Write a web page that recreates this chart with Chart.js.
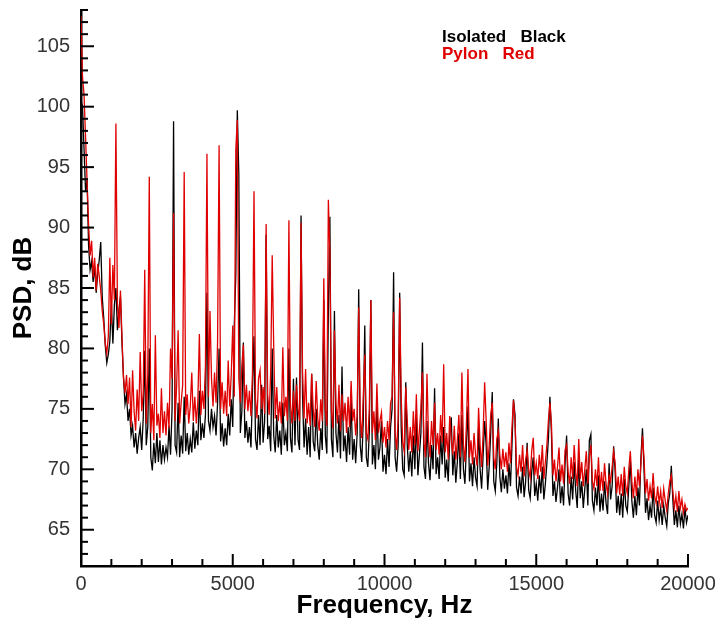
<!DOCTYPE html>
<html>
<head>
<meta charset="utf-8">
<script src="https://cdn.jsdelivr.net/npm/chart.js@4.4.1/dist/chart.umd.min.js"></script>
<style>
  html, body { margin: 0; padding: 0; background: #fff; }
  #wrap { position: relative; width: 718px; height: 623px; }
  #legend {
    position: absolute; left: 442px; top: 28px;
    font: bold 17px "Liberation Sans", Arial, sans-serif;
    line-height: 17px; white-space: pre;
  }
</style>
</head>
<body>
<div id="wrap">
  <canvas id="psd" width="718" height="623"></canvas>
  <div id="legend"><div style="color:#000">Isolated   Black</div><div style="color:#e00000">Pylon   Red</div></div>
</div>
<script>
// spectra sampled every 50 Hz, 0 .. 20000 Hz (values in dB)
const freqStep = 50;

const isolated = [
  100.5, 100.0, 96.5, 93.0, 94.0, 88.5, 86.5, 87.2, 85.5, 86.8, 84.6, 86.2, 87.3, 88.8, 84.2, 82.5, 80.2, 78.8, 79.5, 80.6,
  83.8, 80.4, 83.6, 85.0, 81.5, 83.2, 84.3, 80.5, 77.6, 75.4, 76.2, 74.0, 75.0, 72.8, 73.6, 71.8, 73.0, 71.3, 72.6, 73.5,
  71.6, 74.2, 79.8, 72.0, 73.5, 80.0, 71.0, 69.9, 72.2, 70.5, 73.0, 70.6, 72.4, 70.4, 72.0, 70.8, 71.8, 71.0, 73.6, 71.2,
  74.9, 98.8, 72.0, 71.4, 75.5, 71.0, 72.8, 71.3, 76.0, 71.5, 73.0, 71.2, 72.5, 71.4, 73.9, 71.7, 73.2, 72.0, 76.5, 72.4,
  73.8, 72.6, 74.5, 84.6, 74.0, 73.2, 75.0, 73.5, 74.4, 72.8, 75.5, 80.0, 72.3, 73.8, 71.9, 73.4, 72.0, 74.6, 72.8, 75.8,
  73.5, 81.9, 86.0, 99.7, 94.4, 73.0, 74.8, 80.5, 72.6, 74.0, 72.2, 73.5, 71.8, 76.5, 81.0, 72.5, 71.6, 74.5, 72.0, 77.0,
  72.2, 74.0, 89.4, 72.5, 73.6, 71.5, 80.0, 72.8, 71.4, 74.5, 71.8, 73.2, 71.2, 75.5, 72.0, 73.0, 71.5, 80.0, 72.6, 71.4,
  77.5, 72.0, 77.6, 72.5, 71.6, 91.0, 76.0, 71.8, 74.2, 71.2, 73.5, 71.0, 77.9, 72.3, 71.5, 75.0, 72.0, 70.8, 73.4, 71.6,
  84.0, 72.8, 71.3, 83.0, 90.9, 72.5, 71.0, 83.1, 73.0, 71.4, 74.5, 70.9, 78.5, 71.5, 72.8, 70.6, 73.5, 71.2, 76.0, 70.8,
  72.5, 70.5, 73.0, 84.9, 72.0, 70.6, 74.0, 81.9, 71.0, 70.2, 73.2, 84.0, 70.4, 72.0, 70.0, 75.5, 70.8, 71.8, 74.0, 69.8,
  71.2, 69.6, 72.5, 70.2, 73.5, 75.0, 86.3, 71.0, 69.8, 72.0, 84.6, 73.5, 70.0, 69.5, 77.2, 72.0, 69.8, 71.5, 69.4, 72.8,
  70.0, 74.5, 69.5, 71.2, 73.0, 80.5, 70.2, 69.2, 74.0, 70.5, 69.1, 72.0, 70.0, 76.7, 69.6, 71.0, 69.2, 72.8, 70.4, 73.5,
  69.3, 70.8, 69.0, 72.6, 74.3, 69.5, 71.5, 68.9, 70.6, 73.0, 69.2, 74.5, 70.0, 68.8, 72.0, 75.2, 69.0, 70.5, 68.6, 71.0,
  69.3, 68.6, 73.5, 70.0, 68.4, 71.2, 74.0, 72.0, 68.3, 70.2, 73.0, 76.4, 69.0, 68.2, 70.5, 74.2, 69.4, 68.1, 70.0, 68.4,
  69.5, 68.0, 70.5, 68.6, 72.0, 75.8, 74.5, 68.5, 67.8, 69.4, 68.0, 70.2, 67.7, 69.0, 72.2, 68.3, 67.6, 69.8, 71.0, 67.8,
  68.8, 67.4, 69.5, 68.0, 70.2, 67.5, 68.8, 70.5, 72.5, 76.0, 73.0, 67.8, 69.0, 67.3, 68.5, 70.0, 67.2, 68.6, 67.0, 70.5,
  72.8, 68.0, 67.0, 69.4, 67.5, 70.6, 68.2, 66.8, 71.0, 67.6, 69.0, 66.8, 68.4, 70.0, 67.0, 72.4, 72.9, 67.4, 66.6, 68.5,
  67.0, 69.5, 66.5, 68.0, 66.6, 69.0, 67.2, 66.3, 70.5, 67.5, 68.6, 71.9, 69.8, 66.4, 67.8, 66.2, 68.0, 66.0, 69.2, 67.0,
  66.5, 68.6, 70.8, 67.4, 66.0, 67.8, 66.2, 68.5, 67.0, 71.0, 73.4, 70.0, 66.4, 67.6, 65.8, 67.0, 66.0, 68.5, 66.2, 65.6,
  67.4, 65.8, 66.8, 65.4, 67.0, 66.0, 65.3, 67.2, 68.0, 70.3, 67.5, 65.4, 66.6, 65.2, 67.0, 65.5, 66.3, 65.1, 66.8, 65.6, 66.2
];

const pylon = [
  107.5, 102.5, 101.0, 97.5, 93.8, 90.2, 87.7, 88.9, 85.9, 87.5, 84.8, 87.0, 86.0, 84.8, 83.1, 82.0, 80.4, 79.6, 81.0, 87.5,
  82.0, 86.9, 84.0, 98.6, 83.7, 81.7, 84.8, 80.9, 77.6, 76.3, 77.8, 75.4, 77.6, 73.5, 78.2, 74.8, 73.2, 76.6, 74.0, 79.7,
  74.8, 76.3, 86.5, 73.8, 77.9, 94.2, 73.0, 75.4, 72.4, 81.1, 73.6, 74.6, 72.6, 76.7, 73.0, 74.8, 72.8, 75.5, 73.4, 80.0,
  77.5, 91.2, 74.0, 76.8, 81.5, 73.8, 75.5, 77.0, 94.6, 74.5, 76.2, 73.8, 75.2, 78.0, 74.0, 76.0, 73.8, 75.6, 81.2, 74.5,
  76.5, 75.0, 78.6, 96.1, 76.0, 83.1, 77.5, 75.2, 78.0, 75.5, 80.5, 96.8, 75.0, 77.2, 74.6, 76.5, 74.4, 79.0, 75.2, 77.8,
  81.9, 76.0, 96.4, 98.9, 77.5, 75.5, 78.6, 80.3, 75.0, 77.0, 74.8, 76.5, 74.4, 78.0, 93.0, 75.8, 74.2, 77.5, 78.2, 75.0,
  76.8, 74.6, 90.3, 76.2, 74.5, 78.0, 87.7, 80.1, 74.2, 76.8, 74.0, 75.6, 73.8, 80.1, 74.4, 76.0, 74.0, 90.6, 75.5, 73.8,
  76.5, 74.0, 77.0, 75.0, 74.0, 90.4, 78.0, 74.2, 78.3, 73.8, 75.5, 73.6, 77.9, 75.0, 73.5, 77.3, 74.2, 73.2, 75.8, 74.0,
  85.8, 75.0, 73.6, 92.3, 88.0, 74.8, 73.4, 81.5, 75.5, 73.8, 77.0, 73.2, 76.2, 74.0, 75.5, 73.0, 76.0, 73.5, 77.3, 74.0,
  75.0, 72.8, 74.5, 83.4, 74.2, 72.6, 76.0, 79.5, 73.0, 72.5, 75.0, 84.0, 73.0, 74.8, 72.4, 77.1, 73.0, 74.0, 74.7, 72.2,
  73.5, 71.8, 74.0, 72.4, 75.5, 76.0, 83.0, 73.0, 71.6, 74.2, 84.2, 76.0, 72.2, 71.5, 76.8, 74.0, 71.6, 73.5, 71.4, 74.8,
  72.0, 76.2, 71.5, 73.2, 75.0, 78.0, 72.2, 71.0, 77.9, 72.5, 71.0, 74.0, 72.0, 75.5, 71.6, 73.0, 71.2, 74.5, 72.2, 78.7,
  71.4, 73.0, 70.8, 74.4, 72.5, 71.2, 73.6, 70.8, 72.4, 74.5, 71.0, 78.0, 72.0, 70.6, 73.8, 78.3, 71.0, 72.4, 70.4, 73.0,
  71.2, 70.3, 75.1, 72.0, 70.2, 73.0, 77.2, 74.0, 70.3, 72.0, 74.5, 75.5, 71.0, 70.0, 72.5, 73.2, 71.2, 70.0, 71.7, 70.2,
  71.4, 69.8, 72.2, 70.5, 73.5, 75.7, 74.0, 70.2, 69.5, 71.2, 69.8, 72.0, 69.4, 70.8, 71.6, 70.0, 69.3, 71.5, 72.6, 69.5,
  70.5, 69.2, 71.2, 69.8, 72.0, 69.2, 70.6, 72.0, 74.0, 75.5, 73.8, 69.5, 70.8, 69.0, 70.2, 71.8, 69.0, 70.4, 68.8, 71.6,
  72.0, 69.8, 68.8, 71.0, 69.2, 72.0, 69.8, 68.6, 72.5, 69.2, 70.6, 68.6, 70.0, 71.5, 68.8, 71.0, 72.0, 69.0, 68.4, 70.0,
  68.6, 71.0, 68.2, 69.8, 68.2, 70.5, 68.8, 68.0, 69.5, 69.0, 70.2, 71.5, 70.5, 68.0, 69.4, 67.9, 69.6, 67.8, 70.2, 68.6,
  68.0, 70.0, 71.5, 69.0, 67.6, 69.4, 67.8, 70.0, 68.6, 70.5, 72.8, 71.0, 68.0, 69.2, 67.4, 68.6, 67.6, 69.7, 67.8, 67.2,
  68.6, 67.2, 68.2, 66.8, 68.4, 67.4, 66.6, 68.0, 69.0, 69.5, 68.2, 66.8, 67.8, 66.5, 68.2, 66.8, 67.5, 66.4, 67.1, 66.6, 66.8
];

const xRange = [0, 20000];
const yRange = [62, 108];

function toPoints(values) {
  return values.map((v, i) => ({ x: i * freqStep, y: v }));
}

// inward tick marks, major and minor, like the original plot
const innerTicks = {
  id: 'innerTicks',
  afterDatasetsDraw(chart) {
    const { ctx, chartArea: a, scales: { x, y } } = chart;
    ctx.save();
    ctx.strokeStyle = '#000';
    ctx.lineWidth = 2;
    for (let f = 1000; f <= xRange[1]; f += 1000) {
      const px = x.getPixelForValue(f);
      const len = f % 5000 === 0 ? 12 : 7;
      ctx.beginPath();
      ctx.moveTo(px, a.bottom);
      ctx.lineTo(px, a.bottom - len);
      ctx.stroke();
    }
    for (let d = yRange[0] + 1; d <= yRange[1]; d++) {
      const py = y.getPixelForValue(d);
      const len = d % 5 === 0 ? 13 : 7;
      ctx.beginPath();
      ctx.moveTo(a.left, py);
      ctx.lineTo(a.left + len, py);
      ctx.stroke();
    }
    ctx.restore();
  }
};

const tickFont = { family: '"Liberation Sans", Arial, sans-serif', size: 20 };
const titleFont = { family: '"Liberation Sans", Arial, sans-serif', size: 26, weight: 'bold', lineHeight: 1.2 };

new Chart(document.getElementById('psd'), {
  type: 'line',
  data: {
    datasets: [
      {
        label: 'Pylon',
        data: toPoints(pylon),
        borderColor: '#e00000',
        borderWidth: 1.3,
        pointRadius: 0,
        tension: 0,
        order: 0
      },
      {
        label: 'Isolated',
        data: toPoints(isolated),
        borderColor: '#000000',
        borderWidth: 1.3,
        pointRadius: 0,
        tension: 0,
        order: 1
      }
    ]
  },
  options: {
    responsive: false,
    animation: false,
    layout: { padding: { left: 0, right: 30, top: 10, bottom: 0 } },
    plugins: {
      legend: { display: false },
      tooltip: { enabled: false }
    },
    scales: {
      x: {
        type: 'linear',
        min: xRange[0],
        max: xRange[1],
        grid: { display: false, drawTicks: false },
        border: { display: true, color: '#000', width: 2.5 },
        ticks: {
          stepSize: 5000,
          font: tickFont,
          color: '#333',
          padding: 6,
          maxRotation: 0,
          callback: v => String(v)
        },
        title: { display: true, text: 'Frequency, Hz', font: titleFont, color: '#000', padding: { top: 0, bottom: 2 } },
        afterFit: s => { s.height = 57; s.paddingLeft = 0; s.paddingRight = 0; }
      },
      y: {
        type: 'linear',
        min: yRange[0],
        max: yRange[1],
        grid: { display: false, drawTicks: false },
        border: { display: true, color: '#000', width: 2.5 },
        ticks: {
          stepSize: 5,
          font: tickFont,
          color: '#333',
          padding: 11,
          callback: v => (v % 5 === 0 ? String(v) : '')
        },
        title: { display: true, text: 'PSD, dB', font: titleFont, color: '#000', padding: { top: 8.5, bottom: 0 } },
        afterFit: s => { s.width = 81; s.paddingTop = 0; s.paddingBottom = 0; }
      }
    }
  },
  plugins: [innerTicks]
});
</script>
</body>
</html>
